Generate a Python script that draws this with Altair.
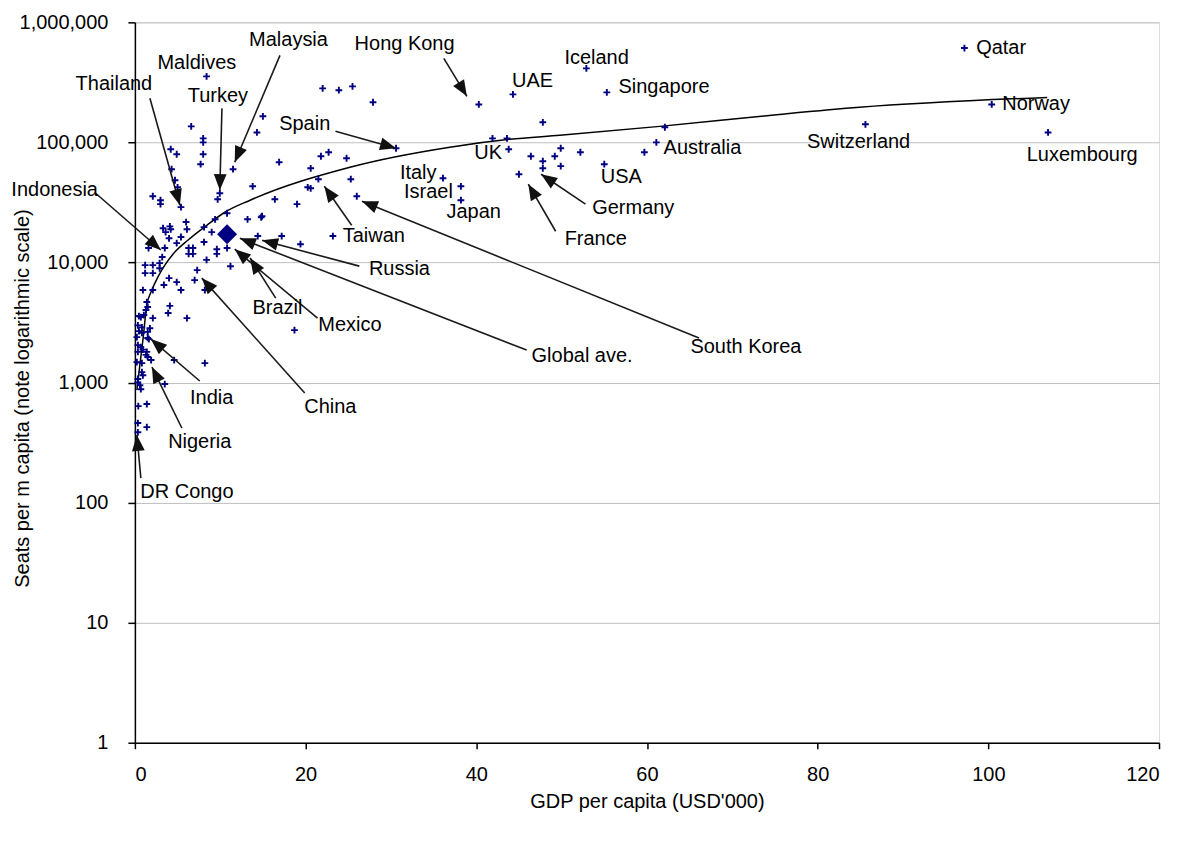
import math
import altair as alt
import pandas as pd

# ---- scatter data (GDP per capita USD'000, seats per million capita) ----
gdp = [97.2, 100.4, 107.0, 85.6, 52.9, 55.3, 62.1, 61.1, 59.7, 52.2, 49.9, 49.9, 55.0,
       44.3, 40.3, 47.8, 41.9, 43.6, 43.8, 46.4, 47.8, 47.8, 49.2, 45.0, 38.2, 38.2, 36.1,
       22.0, 23.9, 25.5, 27.9, 15.0, 14.3, 30.6, 16.9, 21.8, 22.7, 24.8, 20.6, 13.8, 21.5,
       20.6, 25.3, 26.0, 16.4, 19.0, 14.9, 23.2, 14.4, 17.2, 19.4, 18.7,
       8.4, 6.6, 8.0, 8.0, 4.2, 4.9, 8.0, 7.7, 11.5, 4.3, 4.7, 5.0, 5.4, 2.1, 3.0, 3.0,
       9.95, 9.7, 6.0, 6.1, 3.3, 3.6, 4.1, 4.2, 4.0, 5.4, 4.9, 8.1, 9.4, 10.8, 9.0, 13.2,
       14.8, 20.25, 6.3, 6.8, 6.3, 6.8, 8.1, 9.6, 9.6, 10.8, 8.4, 11.2, 7.3, 7.0,
       3.5, 1.6, 1.2, 2.1, 2.9, 1.2, 2.1, 0.94, 2.9, 3.2, 4.0, 4.9, 5.4, 2.1, 3.4,
       1.4, 1.5, 4.1, 3.9, 6.1, 1.3, 0.47, 0.7, 1.05, 2.1, 0.35, 0.82, 0.47, 0.82, 1.76,
       1.5, 0.23, 1.5, 1.64, 0.35, 0.7, 0.94, 1.4, 1.3, 0.35, 1.9, 1.5, 0.23, 0.82, 4.6,
       8.2, 0.82, 0.94, 0.35, 0.59, 0.7, 0.35, 3.5, 0.4, 1.4, 0.35, 1.4, 0.35, 8.2]
seats = [611000, 207000, 121000, 141600, 414000, 261000, 133700, 100000, 82800, 82800, 89400, 63400, 65800,
         251000, 207000, 147000, 108000, 108000, 87700, 76700, 69700, 60900, 76700, 54300, 43100, 33000, 50300,
         282000, 272000, 293000, 216000, 165000, 121000, 89400, 68400, 76700, 82800, 73800, 60900, 43100, 49400,
         41500, 49400, 35600, 33600, 30600, 24300, 16600, 16600, 16600, 14200, 2730,
         355000, 136000, 108000, 100000, 87700, 79700, 79700, 65800, 59800, 59800, 48400, 42300, 28900, 35600, 33000, 30600,
         37700, 33600, 21700, 18900, 19300, 17900, 20000, 18900, 15900, 16300, 14500, 19700, 22900, 25700, 17900, 22900,
         23800, 42300, 13200, 13200, 11800, 11800, 14800, 12900, 11800, 13200, 10500, 9300, 8630, 7130,
         13200, 13200, 9500, 9500, 9880, 8150, 8150, 5890, 8950, 11100, 7410, 6860, 5890, 5890, 6500,
         4680, 4260, 4350, 3790, 3440, 4020, 3580, 3510, 3650, 3440, 2990, 2880, 2680, 2590, 2830,
         2640, 2390, 2350, 2300, 2050, 1970, 1880, 1800, 1700, 1800, 1540, 1630, 1480, 1450, 1540,
         1450, 1220, 1150, 1000, 950, 880, 1070, 971, 636, 662, 460, 425, 385, 5890]

avg_gdp = [10.8]
avg_seats = [17200]

# ---- trend curve ----
trend_gdp = [0.23, 0.47, 0.94, 1.40, 1.99, 2.69, 3.51, 4.68, 6.20, 8.43, 10.54, 13.5,
             25.2, 36.9, 43.9, 49.8, 61.5, 75.5, 84.9, 106.9]
trend_seats = [866, 1200, 2260, 4410, 5890, 7550, 9500, 12200, 15300, 20400, 26200, 33000,
               62100, 91200, 106000, 114700, 136000, 171000, 196000, 237000]

# ---- annotation labels ----
ann_text = ["Maldives", "Turkey", "Malaysia", "Thailand", "Hong Kong", "Iceland", "Singapore", "UAE",
            "UK", "Australia", "USA", "Germany", "France", "Switzerland", "Qatar", "Norway",
            "Luxembourg", "Spain", "Italy", "Israel", "Japan", "Taiwan", "Russia", "Brazil",
            "Mexico", "Global ave.", "South Korea", "China", "India", "Nigeria", "DR Congo", "Indonesia"]
ann_x = [7.26, 9.72, 18.0, -2.46, 31.6, 54.1, 62.0, 46.6, 41.4, 66.5, 57.0, 58.4, 54.0, 84.8, 101.5,
         105.6, 111.0, 19.9, 33.2, 34.4, 39.7, 28.0, 31.0, 16.7, 25.2, 52.4, 71.6, 22.9, 9.0, 7.6, 6.1, -9.4]
ann_y = [456000, 242000, 708000, 305000, 656000, 501000, 288000, 323000, 81300, 89400, 51300, 28300,
         15600, 100300, 607000, 208000, 78200, 141600, 55500, 38600, 26200, 16600, 8800, 4170, 3010,
         1660, 1970, 625, 743, 320, 123, 40000]

# ---- arrows (from label to point) ----
arrow_name = ["Thailand", "Turkey", "Malaysia", "Hong Kong", "Spain", "Taiwan", "South Korea", "Germany",
              "France", "Russia", "Global ave.", "Mexico", "Brazil", "Indonesia", "China", "India",
              "Nigeria", "DR Congo"]
arrow_x1 = [1.76, 10.2, 17.0, 36.2, 23.5, 25.4, 66.1, 52.8, 49.3, 26.3, 45.9, 21.4, 16.5, -4.6, 19.9, 7.6, 5.5, 0.7]
arrow_y1 = [233000, 192000, 531000, 501000, 124000, 20400, 2345, 30600, 18200, 9320, 1863, 3440, 5050,
            37700, 818, 1030, 418, 160]
arrow_x2 = [5.27, 9.95, 11.7, 38.9, 30.6, 22.2, 26.6, 47.6, 46.1, 14.9, 12.3, 11.7, 13.5, 3.04, 7.84, 1.87, 2.0, 0.23]
arrow_y2 = [30000, 40000, 68400, 242000, 89400, 43200, 32400, 54300, 44900, 15300, 15900, 12900, 10900,
            12700, 7410, 2300, 1345, 366]

W, H = 1025, 721
XMAX = 120.0
YDEC = 6.0
FONT = "Liberation Sans"


def sx(v):
    return v / XMAX * W


def sy(v):
    return H - math.log10(v) / YDEC * H


angles = []
for a, b, c, d in zip(arrow_x1, arrow_y1, arrow_x2, arrow_y2):
    dx = sx(c) - sx(a)
    dy = sy(d) - sy(b)
    angles.append(math.degrees(math.atan2(dx, -dy)) % 360)

pts = pd.DataFrame({"x": gdp, "y": seats})
avg = pd.DataFrame({"x": avg_gdp, "y": avg_seats})
trend = pd.DataFrame({"x": trend_gdp, "y": trend_seats})
ann = pd.DataFrame({"x": ann_x, "y": ann_y, "t": ann_text})
arr = pd.DataFrame({"name": arrow_name, "x": arrow_x1, "y": arrow_y1, "x2": arrow_x2, "y2": arrow_y2})
heads = pd.DataFrame({"x": arrow_x2, "y": arrow_y2, "ang": angles})

xscale = alt.Scale(domain=[0, 120], nice=False, zero=False)
yscale = alt.Scale(type="log", domain=[1, 1000000], nice=False)

xaxis = alt.Axis(values=[0, 20, 40, 60, 80, 100, 120], grid=False, tickSize=6, labelPadding=16,
                 labelFontSize=20, labelFont=FONT, labelColor="black", domainColor="black",
                 domainWidth=1.5, tickColor="black", tickWidth=1.5,
                 title="GDP per capita (USD'000)", titleFont=FONT, titleFontSize=20,
                 titleFontWeight="normal", titleColor="black", titleX=W / 2, titleY=59,
                 titleBaseline="middle")
yaxis = alt.Axis(values=[1, 10, 100, 1000, 10000, 100000, 1000000], format=",.0f", grid=True,
                 gridColor="#c0c0c0", gridWidth=1, tickSize=7, labelPadding=20, labelFontSize=20,
                 labelFont=FONT, labelColor="black", domainColor="black", domainWidth=1.5,
                 tickColor="black", tickWidth=1.5,
                 title="Seats per m capita (note logarithmic scale)", titleFont=FONT, titleFontSize=20,
                 titleFontWeight="normal", titleColor="black", titleX=-112, titleY=376,
                 titleBaseline="middle", titleAngle=270)

X = alt.X("x:Q", scale=xscale, axis=xaxis)
Y = alt.Y("y:Q", scale=yscale, axis=yaxis)

trend_layer = alt.Chart(trend).mark_line(color="black", strokeWidth=1.5, interpolate="monotone").encode(x=X, y=Y)

plus = "M-1,0L1,0M0,-1L0,1"
pts_layer = alt.Chart(pts).mark_point(shape=plus, filled=False, size=46, strokeWidth=1.9,
                                      color="#000080", opacity=1).encode(x=X, y=Y)

avg_layer = alt.Chart(avg).mark_point(shape="diamond", filled=True, size=400, color="#000080",
                                      opacity=1).encode(x=X, y=Y)

rule_layer = alt.Chart(arr).mark_rule(color="#1a1a1a", strokeWidth=1.6).encode(
    x=X, y=Y, x2=alt.X2("x2:Q"), y2=alt.Y2("y2:Q"))

head = "M0,0L0.4,1L-0.4,1Z"
head_layer = alt.Chart(heads).mark_point(shape=head, filled=True, size=1024, color="#111111",
                                         opacity=1).encode(
    x=X, y=Y, angle=alt.Angle("ang:Q", scale=None))

text_layer = alt.Chart(ann).mark_text(font=FONT, fontSize=20, color="black", align="center",
                                      baseline="middle").encode(x=X, y=Y, text="t:N")

chart = alt.layer(trend_layer, pts_layer, avg_layer, rule_layer, head_layer, text_layer).properties(
    width=W, height=H,
    autosize=alt.AutoSizeParams(type="none"),
    padding={"left": 127, "top": 14, "right": 12, "bottom": 90},
).configure_view(stroke="#a0a0a0", strokeWidth=1).configure(font=FONT)

chart.save("out.html", embed_options={"renderer": "svg", "actions": False})
